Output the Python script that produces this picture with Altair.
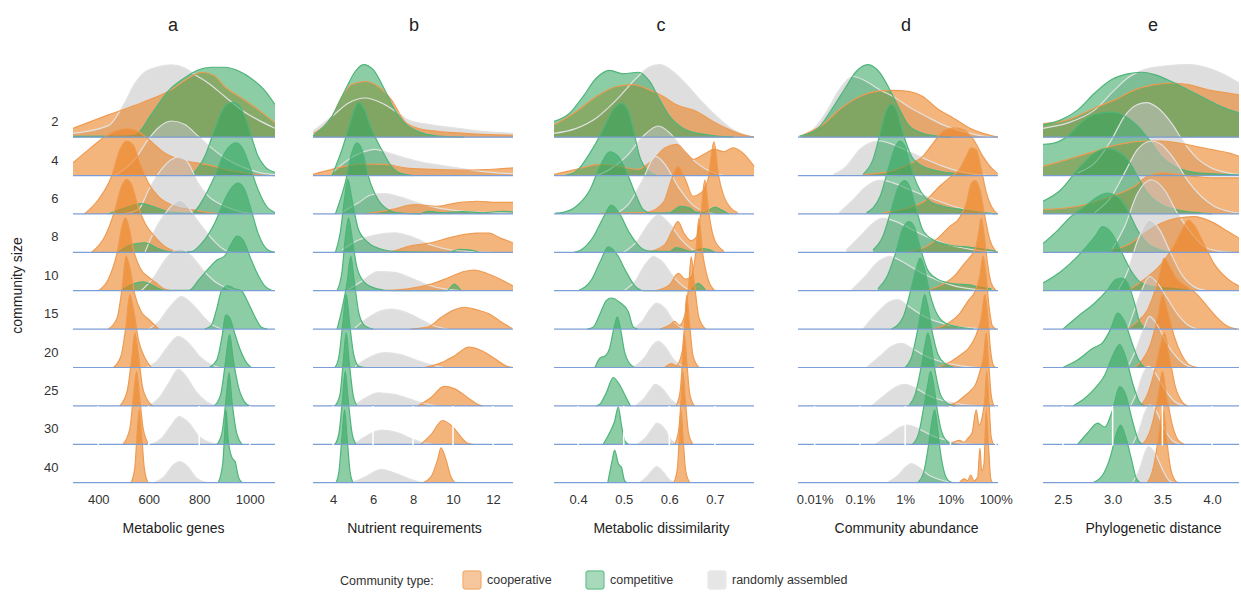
import altair as alt
import pandas as pd

SIZES = ["2", "4", "6", "8", "10", "15", "20", "25", "30", "40"]
TYPES = ["cooperative", "competitive", "randomly assembled"]

# ---------------- panel a : Metabolic genes ----------------
A_COOP = [
    [(300,.23),(440,.58),(570,.89),(680,1.2),(760,1.55),(810,1.69),(860,1.6),(900,1.32),(980,.97),(1060,.58),(1100,.37)],
    [(300,.33),(370,.72),(440,1.07),(490,1.2),(515,1.22),(560,1.14),(600,.94),(660,.6),(720,.42),(790,.33),(850,.26),(900,.16),(970,.08),(1040,.02),(1100,0)],
    [(345,0),(400,.37),(453,.98),(486,1.68),(512,1.9),(538,1.8),(565,1.33),(598,.81),(637,.46),(703,.2),(769,.11),(835,.04),(880,0)],
    [(374,0),(426,.41),(466,1.1),(492,1.71),(512,1.9),(532,1.76),(558,1.19),(585,.76),(624,.41),(664,.15),(716,0)],
    [(400,0),(440,.3),(475,1.0),(495,1.7),(507,1.9),(520,1.7),(540,1.05),(565,.6),(600,.35),(630,.2),(660,.05),(690,0)],
    [(440,0),(475,.3),(495,1.1),(510,1.9),(525,1.6),(545,.9),(570,.45),(600,.25),(640,0)],
    [(460,0),(490,.3),(510,1.1),(525,1.9),(540,1.5),(560,.7),(585,.25),(610,0)],
    [(485,0),(515,.4),(532,1.2),(545,1.9),(558,1.4),(575,.5),(600,.1),(615,0)],
    [(498,0),(525,.4),(540,1.3),(552,1.9),(563,1.3),(578,.4),(600,0)],
    [(530,0),(545,.4),(555,1.4),(562,1.9),(570,1.4),(582,.4),(597,0)],
]
A_COMP = [
    [(300,.02),(500,.03),(545,.05),(611,.6),(677,1.2),(743,1.55),(795,1.75),(848,1.82),(901,1.82),(954,1.73),(1006,1.53),(1059,1.22),(1100,.85)],
    [(769,0),(822,.5),(861,1.2),(894,1.72),(914,1.87),(934,1.9),(954,1.85),(980,1.55),(1006,1.03),(1033,.5),(1059,.24),(1100,.08)],
    [(440,0),(505,.15),(571,.27),(624,.18),(690,.04),(769,.02),(822,.46),(861,.98),(901,1.59),(927,1.8),(947,1.85),(974,1.68),(1000,1.24),(1033,.63),(1066,.2),(1100,.03)],
    [(479,0),(532,.2),(585,.25),(637,.1),(690,.01),(769,.02),(809,.23),(861,.76),(901,1.37),(927,1.67),(954,1.8),(980,1.63),(1006,1.1),(1033,.5),(1072,.06),(1100,0)],
    [(490,0),(540,.18),(580,.23),(620,.12),(660,.01),(760,.01),(800,.3),(840,.6),(870,.8),(900,.9),(925,1.2),(950,1.42),(975,1.3),(1000,.9),(1030,.45),(1060,.12),(1090,0)],
    [(822,0),(848,.1),(868,.5),(888,1.0),(914,1.13),(940,1.05),(967,1.0),(993,.7),(1020,.33),(1046,.05),(1070,0)],
    [(840,0),(870,.2),(890,.8),(905,1.37),(920,1.3),(940,.9),(960,.5),(985,.15),(1005,0)],
    [(860,0),(885,.3),(905,1.2),(920,1.86),(935,1.2),(955,.5),(980,.1),(1000,0)],
    [(870,0),(890,.3),(905,1.1),(918,1.86),(930,1.1),(948,.3),(970,0)],
    [(875,0),(893,.5),(900,1.2),(906,1.89),(915,1.1),(930,.65),(942,.55),(955,.15),(970,0)],
]
A_RAND = [
    [(300,.1),(440,.3),(505,.9),(545,1.4),(585,1.7),(637,1.83),(690,1.88),(743,1.8),(782,1.63),(835,1.41),(901,1.06),(967,.71),(1033,.45),(1100,.23)],
    [(466,0),(545,.42),(598,.94),(637,1.24),(690,1.42),(743,1.33),(795,1.03),(848,.72),(901,.46),(980,.2),(1059,.05),(1100,.02)],
    [(500,0),(560,.12),(600,.63),(650,1.16),(690,1.42),(723,1.49),(756,1.33),(795,.81),(835,.47),(901,.2),(967,.05),(1030,0)],
    [(585,0),(624,.58),(664,1.0),(703,1.29),(723,1.35),(756,1.19),(782,.93),(822,.58),(861,.28),(901,.06),(930,0)],
    [(570,0),(620,.35),(670,.85),(723,1.1),(770,.9),(820,.5),(870,.2),(920,.05),(960,0)],
    [(600,0),(640,.2),(680,.55),(730,.85),(780,.6),(820,.3),(860,.08),(890,0)],
    [(590,0),(630,.15),(670,.5),(717,.81),(760,.62),(800,.3),(840,.1),(880,0)],
    [(600,0),(640,.2),(680,.6),(717,.95),(750,.75),(790,.35),(830,.1),(870,0)],
    [(610,0),(650,.15),(690,.5),(720,.72),(760,.55),(800,.2),(840,.05),(870,0)],
    [(620,0),(660,.15),(695,.45),(722,.55),(750,.45),(790,.12),(830,0)],
]

# ---------------- panel b : Nutrient requirements ----------------
B_COOP = [
    [(3.04,.1),(3.95,.54),(4.45,1.06),(4.94,1.37),(5.6,1.45),(6.26,1.32),(6.92,.97),(7.58,.41),(8.24,.23),(9.23,.15),(10.55,.1),(12.2,.06),(13,.05)],
    [(3.0,.03),(3.95,.16),(4.78,.26),(5.6,.3),(6.59,.29),(7.58,.2),(8.9,.16),(10.55,.14),(12.2,.17),(13,.2)],
    [(5.6,0),(6.92,.11),(8.08,.24),(9.23,.2),(10.22,.29),(11.2,.33),(12.2,.3),(13,.3)],
    [(6.5,0),(6.92,.02),(7.75,.15),(8.9,.25),(10.06,.41),(11.2,.5),(11.8,.5),(12.37,.37),(13,.25)],
    [(6.43,0),(7.75,.05),(8.9,.17),(9.73,.33),(10.55,.5),(11.05,.54),(11.7,.45),(12.37,.3),(13,.12)],
    [(7.91,0),(8.74,.05),(9.4,.3),(10.06,.5),(10.55,.57),(11.2,.5),(11.8,.4),(12.37,.2),(12.94,.02)],
    [(8.57,0),(9.4,.12),(10.06,.3),(10.8,.53),(11.38,.45),(12.04,.25),(12.7,.03),(13,0)],
    [(8.24,0),(8.9,.22),(9.56,.51),(10.06,.45),(10.72,.22),(11.2,.05),(11.5,0)],
    [(8.4,0),(8.9,.25),(9.48,.62),(9.9,.5),(10.39,.2),(10.72,.03),(11,0)],
    [(8.49,0),(8.9,.15),(9.23,.6),(9.4,.91),(9.65,.6),(9.9,.15),(10.1,0)],
]
B_COMP = [
    [(3.0,.03),(3.95,.54),(4.61,1.23),(5.11,1.71),(5.52,1.89),(6.01,1.76),(6.59,1.23),(7.09,.71),(7.58,.37),(8.24,.15),(9.23,.03),(10.55,0)],
    [(3.95,0),(4.45,.68),(4.86,1.37),(5.11,1.77),(5.27,1.9),(5.52,1.77),(5.93,1.2),(6.43,.68),(6.92,.24),(7.42,.05),(8,0)],
    [(4.12,0),(4.61,.81),(4.94,1.59),(5.19,1.85),(5.44,1.68),(5.77,.98),(6.26,.37),(6.76,.11),(7.25,.03),(8.3,0),(8.8,.07),(9.5,.03),(10.5,.06),(11.5,.03),(12.5,.07),(13,.05)],
    [(4.12,0),(4.36,.5),(4.58,1.4),(4.74,1.9),(4.94,1.4),(5.27,.6),(5.77,.25),(6.43,.08),(7.09,.02),(9.8,0),(10.3,.08),(10.9,.06),(11.3,0)],
    [(4.2,0),(4.45,.5),(4.62,1.4),(4.78,1.9),(4.95,1.4),(5.2,.6),(5.6,.2),(6.2,.05),(7,0),(9.7,0),(10.06,.17),(10.4,0)],
    [(4.2,0),(4.35,.3),(4.5,.65),(4.7,1.2),(4.89,1.9),(5.05,1.3),(5.3,.4),(5.6,.08),(6,0)],
    [(4.1,0),(4.3,.3),(4.5,1.2),(4.66,1.9),(4.82,1.2),(5.05,.3),(5.3,.03),(5.6,0)],
    [(4.1,0),(4.35,.3),(4.52,1.2),(4.66,1.9),(4.8,1.2),(5.0,.3),(5.2,0)],
    [(4.1,0),(4.3,.3),(4.48,1.2),(4.61,1.9),(4.75,1.2),(4.95,.3),(5.15,0)],
    [(4.15,0),(4.3,.3),(4.45,1.2),(4.58,1.9),(4.7,1.2),(4.85,.3),(5.0,0)],
]
B_RAND = [
    [(3.0,.15),(3.95,.54),(4.78,.89),(5.6,1.02),(6.43,.89),(7.25,.63),(7.75,.45),(8.9,.32),(10.22,.23),(11.5,.15),(13,.1)],
    [(3.95,.07),(4.78,.42),(5.6,.63),(6.1,.68),(6.76,.59),(7.58,.46),(8.57,.33),(9.73,.24),(10.88,.14),(12.2,.07),(13,.05)],
    [(4.45,.04),(5.27,.29),(5.93,.5),(6.59,.53),(7.25,.46),(8.24,.29),(9.23,.16),(10.55,.07),(12.2,.03),(13,.02)],
    [(4.45,.06),(5.27,.32),(6.1,.45),(7.09,.51),(7.91,.41),(8.9,.19),(9.9,.06),(10.9,.02),(12,0)],
    [(4.78,.03),(5.44,.25),(6.26,.5),(7.09,.48),(7.91,.33),(8.74,.15),(9.56,.05),(10.5,0)],
    [(5.1,.03),(5.77,.3),(6.43,.48),(6.92,.52),(7.58,.45),(8.4,.25),(9.07,.08),(9.73,0)],
    [(5.1,.02),(5.6,.2),(6.59,.39),(7.42,.33),(8.24,.18),(8.9,.07),(9.56,0)],
    [(5.1,.03),(5.6,.2),(6.26,.34),(7.09,.3),(7.91,.17),(8.57,.06),(9.23,0)],
    [(5.1,.02),(5.77,.25),(6.43,.37),(7.25,.3),(7.91,.15),(8.57,.03),(9,0)],
    [(4.94,0),(5.6,.15),(6.43,.35),(7.09,.25),(7.91,.08),(8.4,0)],
]

# ---------------- panel c : Metabolic dissimilarity ----------------
C_COOP = [
    [(0.347,.32),(0.396,.67),(0.44,1.06),(0.484,1.32),(0.521,1.37),(0.557,1.23),(0.587,1.06),(0.616,.84),(0.66,.67),(0.696,.41),(0.733,.19),(0.762,.06),(0.786,0)],
    [(0.347,.03),(0.396,.16),(0.448,.29),(0.491,.24),(0.53,.16),(0.565,.42),(0.59,.72),(0.616,.81),(0.64,.55),(0.652,.42),(0.675,.55),(0.7,.68),(0.72,.62),(0.74,.72),(0.76,.6),(0.786,.24)],
    [(0.45,.02),(0.55,.04),(0.587,.3),(0.605,.9),(0.619,1.24),(0.635,.9),(0.652,.46),(0.67,.55),(0.685,.9),(0.698,1.88),(0.708,1.0),(0.72,.45),(0.735,.15),(0.75,.03)],
    [(0.55,0),(0.59,.2),(0.608,.6),(0.619,.8),(0.632,.5),(0.648,.3),(0.66,.4),(0.67,1.1),(0.678,1.88),(0.687,1.0),(0.7,.3),(0.72,.03)],
    [(0.57,0),(0.6,.15),(0.62,.45),(0.635,.3),(0.648,.35),(0.658,1.0),(0.665,1.88),(0.673,1.0),(0.685,.3),(0.7,0)],
    [(0.58,0),(0.6,.1),(0.612,.2),(0.622,.1),(0.635,.4),(0.643,1.2),(0.648,1.88),(0.655,1.2),(0.665,.3),(0.68,0)],
    [(0.59,0),(0.605,.1),(0.615,.05),(0.628,.4),(0.634,1.2),(0.638,1.88),(0.644,1.2),(0.652,.3),(0.665,0)],
    [(0.615,0),(0.624,.4),(0.629,1.2),(0.633,1.88),(0.638,1.2),(0.645,.3),(0.655,0)],
    [(0.612,0),(0.621,.4),(0.626,1.2),(0.63,1.88),(0.635,1.2),(0.642,.3),(0.652,0)],
    [(0.61,0),(0.618,.4),(0.622,1.2),(0.626,1.88),(0.63,1.2),(0.636,.3),(0.645,0)],
]
C_COMP = [
    [(0.347,.41),(0.382,.63),(0.411,1.06),(0.44,1.54),(0.469,1.74),(0.499,1.65),(0.532,1.69),(0.557,1.45),(0.579,.97),(0.601,.54),(0.63,.23),(0.667,.09),(0.704,.03),(0.74,0)],
    [(0.37,0),(0.396,.11),(0.426,.59),(0.455,1.2),(0.477,1.72),(0.495,1.88),(0.51,1.68),(0.521,1.2),(0.535,.5),(0.55,.16),(0.57,.02)],
    [(0.35,.02),(0.367,.04),(0.396,.2),(0.426,.63),(0.448,1.24),(0.469,1.62),(0.488,1.5),(0.51,.98),(0.528,.46),(0.543,.11),(0.56,.02),(0.6,.03),(0.625,.2),(0.645,.15),(0.66,.04),(0.68,.05),(0.7,.18),(0.715,.1),(0.73,0)],
    [(0.39,0),(0.404,.05),(0.433,.4),(0.455,.9),(0.473,1.23),(0.491,1.0),(0.513,.5),(0.535,.15),(0.557,.03),(0.6,.02),(0.615,.12),(0.63,.08),(0.65,.02),(0.67,.1),(0.685,.08),(0.7,0)],
    [(0.4,0),(0.43,.3),(0.45,.8),(0.466,1.14),(0.485,.95),(0.505,.5),(0.525,.12),(0.545,0),(0.645,0),(0.663,.19),(0.68,0)],
    [(0.42,0),(0.433,.05),(0.448,.4),(0.462,.75),(0.473,.81),(0.491,.7),(0.51,.45),(0.521,.05),(0.53,0)],
    [(0.437,0),(0.448,.25),(0.459,.3),(0.469,.5),(0.478,1.0),(0.486,1.32),(0.493,1.0),(0.502,.4),(0.513,.1),(0.524,0)],
    [(0.44,0),(0.448,.05),(0.462,.35),(0.477,.74),(0.491,.55),(0.506,.2),(0.515,0)],
    [(0.455,0),(0.469,.3),(0.48,.6),(0.488,.97),(0.495,.5),(0.502,.1),(0.51,0)],
    [(0.465,0),(0.475,.6),(0.48,.85),(0.488,.5),(0.495,.4),(0.502,.05),(0.508,0)],
]
C_RAND = [
    [(0.347,.1),(0.396,.23),(0.44,.5),(0.484,.97),(0.528,1.54),(0.557,1.83),(0.579,1.89),(0.608,1.71),(0.638,1.37),(0.674,.89),(0.704,.54),(0.74,.19),(0.776,.03),(0.786,.01)],
    [(0.44,0),(0.469,.16),(0.506,.5),(0.543,1.03),(0.576,1.29),(0.601,1.11),(0.63,.68),(0.66,.33),(0.689,.11),(0.72,0)],
    [(0.48,0),(0.51,.25),(0.54,.85),(0.57,1.5),(0.59,1.3),(0.62,.7),(0.65,.25),(0.68,.05),(0.7,0)],
    [(0.5,0),(0.53,.3),(0.555,.75),(0.576,.97),(0.6,.75),(0.625,.35),(0.65,.08),(0.67,0)],
    [(0.5,0),(0.525,.25),(0.548,.7),(0.565,.89),(0.585,.75),(0.61,.35),(0.635,.08),(0.655,0)],
    [(0.52,0),(0.54,.2),(0.56,.55),(0.572,.68),(0.59,.55),(0.61,.2),(0.63,.02),(0.64,0)],
    [(0.52,0),(0.545,.25),(0.565,.6),(0.576,.68),(0.59,.55),(0.61,.2),(0.63,.03),(0.64,0)],
    [(0.525,0),(0.545,.2),(0.56,.45),(0.568,.56),(0.585,.45),(0.605,.15),(0.625,0)],
    [(0.53,0),(0.55,.2),(0.565,.45),(0.572,.55),(0.59,.4),(0.605,.1),(0.62,0)],
    [(0.535,0),(0.55,.15),(0.565,.35),(0.572,.42),(0.585,.3),(0.6,.08),(0.615,0)],
]

# ---------------- panel d : Community abundance (%) ----------------
D_COOP = [
    [(0.005,.03),(0.015,.32),(0.043,.8),(0.1,1.06),(0.23,1.19),(0.54,1.22),(1.17,1.19),(2.45,1.06),(4.9,.76),(11.5,.5),(27,.23),(52,.1),(87,.03),(112,0)],
    [(0.117,.03),(0.46,.11),(1.17,.29),(2.45,.5),(4.2,.85),(6.9,1.16),(11.5,1.24),(19,1.2),(32,.94),(52,.5),(80,.2),(110,.05)],
    [(0.32,.03),(1.17,.16),(2.95,.37),(5.75,.72),(9.5,.94),(15.8,1.16),(22.4,1.5),(28.8,1.72),(37,1.68),(48,1.16),(62,.55),(80,.2),(100,.04),(112,0)],
    [(1.17,.02),(2.95,.15),(5.75,.41),(9.5,.67),(15.8,.89),(22.4,1.28),(28.8,1.8),(34.7,1.87),(44.7,1.63),(57.5,.93),(74,.32),(95,.06),(112,0)],
    [(2.5,0),(6.3,.15),(12.6,.4),(20,.7),(28,.9),(35.5,1.1),(41.7,1.5),(47.9,1.89),(55,1.5),(66,.7),(79,.2),(100,.02)],
    [(4,0),(8.9,.15),(15.8,.4),(25,.75),(35.5,1.0),(44.7,1.4),(52.5,1.9),(60,1.5),(71,.6),(83,.1),(100,0)],
    [(5,0),(10,.15),(17.8,.35),(25,.5),(35.5,.8),(47.9,1.3),(57.5,1.9),(66,1.4),(76,.5),(89,.05),(100,0)],
    [(8,0),(14,.1),(20,.25),(28,.4),(35.5,.55),(44.7,.9),(53.7,1.3),(61.7,1.9),(69,1.2),(79,.3),(91,0)],
    [(10,0),(15.8,.1),(20,.05),(24,.15),(30,.3),(37,.9),(42.7,.5),(50,.7),(57.5,1.2),(63,1.9),(71,1.1),(79,.2),(89,0)],
    [(15.8,0),(20,.1),(24,.05),(28,.2),(33,.05),(40,.15),(44.7,.9),(49,.3),(55,.5),(61.7,1.9),(69,1.0),(77.6,.1),(85,0)],
]
D_COMP = [
    [(0.0047,.03),(0.011,.19),(0.025,.76),(0.05,1.32),(0.083,1.71),(0.15,1.89),(0.28,1.67),(0.46,1.23),(0.76,.71),(1.17,.32),(2.45,.1),(4.9,.03),(10,0)],
    [(0.117,.03),(0.195,.42),(0.295,1.2),(0.38,1.68),(0.49,1.85),(0.63,1.72),(0.89,1.11),(1.38,.5),(2.45,.24),(5.75,.11),(13.5,.05),(32,0)],
    [(0.14,.03),(0.28,.46),(0.42,1.16),(0.59,1.72),(0.76,1.9),(0.98,1.77),(1.38,1.16),(2.1,.63),(3.5,.33),(6.9,.2),(19,.11),(52,.04),(100,0)],
    [(0.195,.06),(0.32,.41),(0.49,1.1),(0.69,1.67),(0.98,1.87),(1.26,1.71),(1.78,1.1),(2.45,.58),(4.2,.32),(9.5,.19),(27,.13),(74,.06),(100,.03)],
    [(0.25,.05),(0.4,.38),(0.62,1.0),(0.87,1.6),(1.23,1.8),(1.6,1.65),(2.24,1.05),(3.1,.55),(5.2,.3),(12,.18),(27,.15),(34,.12),(80,.05)],
    [(0.5,0),(0.89,.3),(1.32,1.0),(1.78,1.6),(2.14,1.85),(2.63,1.6),(3.55,.9),(5,.4),(7.9,.15),(15.8,.05),(32,0)],
    [(1,0),(1.41,.3),(1.9,1.0),(2.34,1.6),(2.69,1.9),(3.16,1.6),(4.0,.9),(5.25,.35),(7.6,.1),(12.6,0)],
    [(1.2,0),(1.66,.3),(2.24,1.0),(2.75,1.6),(3.16,1.9),(3.7,1.6),(4.6,.9),(6.0,.3),(8.9,.05),(12.6,0)],
    [(1.45,0),(2.0,.3),(2.6,1.0),(3.2,1.6),(3.63,1.9),(4.2,1.6),(5.1,.9),(6.5,.3),(9,.05),(12,0)],
    [(1.9,0),(2.6,.3),(3.3,1.0),(3.9,1.6),(4.5,1.9),(5.1,1.5),(6.0,.8),(7.4,.25),(9.5,.03),(11,0)],
]
D_RAND = [
    [(0.0043,.02),(0.0091,.19),(0.018,.65),(0.035,1.23),(0.071,1.58),(0.14,1.45),(0.28,1.23),(0.54,1.06),(1.17,.8),(2.95,.54),(6.9,.32),(19,.15),(52,.03),(100,0)],
    [(0.026,.03),(0.05,.24),(0.1,.68),(0.166,.85),(0.28,.9),(0.54,.81),(1.17,.63),(2.95,.42),(6.9,.24),(15.8,.11),(37,.03),(80,0)],
    [(0.035,.03),(0.071,.37),(0.14,.72),(0.28,.88),(0.54,.81),(1.26,.63),(2.95,.46),(6.9,.29),(19,.13),(52,.04),(100,0)],
    [(0.05,.06),(0.1,.41),(0.195,.76),(0.32,.89),(0.63,.8),(1.48,.58),(3.5,.37),(9.5,.19),(27,.08),(63,.02),(100,0)],
    [(0.063,0),(0.126,.35),(0.25,.75),(0.46,.89),(0.89,.75),(2.0,.5),(5.0,.28),(12.6,.12),(32,.04),(80,0)],
    [(0.117,0),(0.23,.4),(0.46,.72),(0.69,.77),(1.17,.6),(2.45,.35),(4.9,.2),(9.5,.1),(27,.03),(50,0)],
    [(0.14,0),(0.28,.3),(0.5,.55),(0.83,.63),(1.41,.5),(2.8,.3),(6.3,.15),(15.8,.05),(40,0)],
    [(0.18,0),(0.35,.28),(0.63,.5),(1.0,.56),(1.78,.45),(3.55,.25),(7.9,.12),(20,.03),(40,0)],
    [(0.22,0),(0.45,.25),(0.79,.45),(1.17,.5),(2.0,.4),(4.0,.22),(8.9,.1),(20,.02),(32,0)],
    [(0.4,0),(0.71,.2),(1.05,.42),(1.38,.5),(2.0,.4),(3.55,.18),(7.1,.05),(12.6,0)],
]

# ---------------- panel e : Phylogenetic distance ----------------
E_COOP = [
    [(2.3,.35),(2.55,.45),(2.82,.76),(3.02,.97),(3.22,1.23),(3.42,1.37),(3.59,1.41),(3.76,1.37),(3.96,1.23),(4.16,1.15),(4.27,1.1)],
    [(2.3,.24),(2.48,.37),(2.65,.5),(2.82,.63),(2.99,.77),(3.15,.85),(3.32,.9),(3.49,.9),(3.65,.85),(3.82,.77),(3.99,.68),(4.16,.59),(4.27,.5)],
    [(2.3,.11),(2.65,.2),(2.99,.46),(3.22,.72),(3.35,.98),(3.49,1.07),(3.65,1.03),(3.82,.98),(4.02,.94),(4.27,.94)],
    [(2.99,.06),(3.15,.19),(3.32,.5),(3.49,.76),(3.65,.89),(3.82,.93),(3.99,.8),(4.16,.54),(4.27,.37)],
    [(3.15,0),(3.32,.3),(3.49,.7),(3.62,1.2),(3.72,1.7),(3.76,1.84),(3.82,1.7),(3.92,1.2),(4.02,.7),(4.16,.3),(4.27,.12)],
    [(3.15,0),(3.25,.2),(3.35,.5),(3.45,1.2),(3.52,1.85),(3.58,1.6),(3.65,1.3),(3.75,1.1),(3.85,.9),(3.95,.6),(4.05,.3),(4.15,.08),(4.25,0)],
    [(3.22,0),(3.3,.2),(3.38,.6),(3.45,1.3),(3.5,1.9),(3.56,1.4),(3.62,.8),(3.7,.3),(3.78,.05),(3.85,0)],
    [(3.28,0),(3.35,.3),(3.42,.9),(3.48,1.6),(3.52,1.9),(3.57,1.3),(3.63,.5),(3.7,.1),(3.75,0)],
    [(3.3,0),(3.37,.3),(3.43,.9),(3.47,1.5),(3.5,1.9),(3.54,1.3),(3.6,.5),(3.66,.1),(3.72,0)],
    [(3.35,0),(3.4,.3),(3.45,1.0),(3.48,1.6),(3.51,1.9),(3.54,1.2),(3.58,.4),(3.63,.05),(3.66,0)],
]
E_COMP = [
    [(2.3,.32),(2.48,.45),(2.65,.71),(2.82,1.15),(2.99,1.5),(3.15,1.65),(3.29,1.69),(3.42,1.63),(3.59,1.45),(3.76,1.23),(3.92,1.02),(4.09,.8),(4.27,.63)],
    [(2.3,.81),(2.42,.85),(2.55,1.03),(2.68,1.37),(2.82,1.59),(2.99,1.65),(3.12,1.55),(3.25,1.29),(3.39,.85),(3.49,.5),(3.62,.24),(3.76,.11),(3.96,.05),(4.27,.02)],
    [(2.3,.33),(2.48,.63),(2.65,1.16),(2.82,1.59),(2.95,1.7),(3.05,1.63),(3.15,1.42),(3.25,.98),(3.35,.55),(3.49,.24),(3.65,.11),(3.82,.04),(4.0,0)],
    [(2.3,.23),(2.45,.58),(2.58,.93),(2.72,1.19),(2.85,1.45),(2.95,1.54),(3.05,1.45),(3.15,1.1),(3.25,.58),(3.35,.23),(3.49,.06),(3.6,0)],
    [(2.3,.2),(2.48,.5),(2.65,.9),(2.82,1.4),(2.9,1.67),(2.99,1.5),(3.09,1.0),(3.19,.5),(3.29,.2),(3.42,.1),(3.65,.05),(3.8,0)],
    [(2.5,0),(2.65,.33),(2.82,.68),(2.95,1.03),(3.03,1.29),(3.09,1.33),(3.15,1.2),(3.22,.68),(3.27,.2),(3.32,.05),(3.4,0)],
    [(2.5,0),(2.65,.2),(2.8,.5),(2.9,.65),(2.98,1.0),(3.05,1.42),(3.12,1.2),(3.2,.6),(3.26,.2),(3.32,0)],
    [(2.6,0),(2.72,.2),(2.82,.45),(2.92,.8),(3.0,1.3),(3.07,1.6),(3.14,1.2),(3.2,.6),(3.27,.1),(3.32,0)],
    [(2.65,0),(2.75,.3),(2.85,.55),(2.92,.45),(3.0,.9),(3.07,1.5),(3.13,1.3),(3.2,.6),(3.26,.1),(3.3,0)],
    [(2.8,0),(2.9,.2),(2.98,.7),(3.04,1.3),(3.08,1.5),(3.13,1.2),(3.19,.6),(3.24,.1),(3.28,0)],
]
E_RAND = [
    [(2.3,.23),(2.55,.37),(2.82,.71),(3.02,1.23),(3.15,1.54),(3.32,1.76),(3.55,1.86),(3.76,1.89),(3.96,1.8),(4.12,1.63),(4.27,1.41)],
    [(2.65,.07),(2.82,.33),(2.99,.94),(3.12,1.55),(3.25,1.85),(3.34,1.9),(3.45,1.77),(3.59,1.37),(3.72,.85),(3.86,.42),(3.99,.2),(4.16,.07),(4.27,.03)],
    [(2.82,.04),(2.99,.46),(3.12,1.07),(3.25,1.68),(3.39,1.9),(3.49,1.81),(3.62,1.42),(3.76,.85),(3.89,.46),(4.02,.2),(4.16,.07),(4.27,.02)],
    [(2.99,.06),(3.12,.67),(3.25,1.54),(3.39,1.89),(3.52,1.63),(3.65,1.02),(3.79,.5),(3.92,.15),(4.06,.03),(4.2,0)],
    [(3.05,0),(3.15,.5),(3.25,1.3),(3.37,1.84),(3.47,1.6),(3.58,1.0),(3.7,.4),(3.82,.1),(3.95,0)],
    [(3.15,0),(3.22,.5),(3.29,1.0),(3.37,1.37),(3.45,1.2),(3.55,.8),(3.65,.4),(3.76,.1),(3.85,0)],
    [(3.15,0),(3.24,.5),(3.31,1.0),(3.37,1.33),(3.45,1.1),(3.55,.6),(3.65,.25),(3.75,.05),(3.85,0)],
    [(3.18,0),(3.25,.4),(3.3,.8),(3.36,1.03),(3.43,.85),(3.52,.45),(3.62,.12),(3.72,0)],
    [(3.2,0),(3.27,.4),(3.32,.8),(3.37,1.03),(3.44,.85),(3.52,.4),(3.6,.1),(3.68,0)],
    [(3.2,0),(3.27,.35),(3.32,.75),(3.36,.94),(3.43,.75),(3.5,.35),(3.57,.05),(3.62,0)],
]

FONT = "Liberation Sans"
FILL_RANGE = ["rgba(236,128,30,0.58)", "rgba(46,164,91,0.55)", "rgba(195,195,195,0.55)"]
STROKE_RANGE = ["#EE9B52", "#4DB57A", "#E2E2E2"]
RULE_COLOR = "#7B9ED6"
PANEL_H = 440
Y_DOMAIN = [-0.06, 11.4]
SYMBOL = "M-0.7,-1H0.7Q1,-1 1,-0.7V0.7Q1,1 0.7,1H-0.7Q-1,1 -1,0.7V-0.7Q-1,-1 -0.7,-1Z"

LEGEND = alt.Legend(
    title="Community type:", orient="none", legendX=267, legendY=525,
    direction="horizontal", titleOrient="left", symbolType=SYMBOL, symbolSize=320,
    symbolStrokeWidth=1.5, symbolOpacity=0.75, labelFontSize=12.5, titleFontSize=12.5,
    titleFontWeight="normal", labelFont=FONT, titleFont=FONT, labelColor="#333",
    titleColor="#333", columnPadding=31, titlePadding=28, labelOffset=5, titleBaseline="middle",
)


def frame(coop, comp, rand):
    recs = []
    for i in range(10):
        base = 9 - i
        for t, curves in (("randomly assembled", rand), ("cooperative", coop), ("competitive", comp)):
            for x, h in curves[i]:
                recs.append({"row": i, "type": t, "x": x, "top": base + h, "base": base})
    return pd.DataFrame(recs)


BASES = pd.DataFrame({"base": [9 - i for i in range(10)]})


def panel(coop, comp, rand, letter, xtitle, domain, width, data_w, ticks, fmt=None,
          label_expr=None, log=False, first=False, title_pos=None):
    df = frame(coop, comp, rand)
    xscale = alt.Scale(domain=domain, nice=False, zero=False, type="log" if log else "linear")
    axis_kw = dict(title=xtitle, values=ticks, domain=False, ticks=False, grid=False,
                   labelPadding=8, titlePadding=15, labelFontSize=13, titleFontSize=14,
                   titleFontWeight="normal", labelFont=FONT, titleFont=FONT,
                   labelColor="#333", titleColor="#222", labelFlush=False,
                   titleX=title_pos)
    if fmt:
        axis_kw["format"] = fmt
    if label_expr:
        axis_kw["labelExpr"] = label_expr
    xenc = alt.X("x:Q", scale=xscale, axis=alt.Axis(**axis_kw))
    yscale = alt.Scale(domain=Y_DOMAIN, nice=False, zero=False)
    if first:
        yaxis = alt.Axis(title="community size", values=[b + 0.4 for b in range(10)],
                         labelExpr="['40','30','25','20','15','10','8','6','4','2'][round(datum.value - 0.4)]",
                         domain=False, ticks=False, grid=False, labelPadding=15,
                         labelFontSize=13, titleFontSize=14, titleFontWeight="normal",
                         labelFont=FONT, titleFont=FONT, labelColor="#333", titleColor="#222",
                         titlePadding=19, titleY=240)
    else:
        yaxis = None
    fill = alt.Fill("type:N", scale=alt.Scale(domain=TYPES, range=FILL_RANGE), legend=LEGEND)
    stroke = alt.Stroke("type:N", scale=alt.Scale(domain=TYPES, range=STROKE_RANGE), legend=LEGEND)
    layers = []
    for i in range(10):
        sub = alt.Chart(df).transform_filter(alt.datum.row == i)
        area = sub.mark_area(interpolate="monotone", clip=True, strokeWidth=0).encode(
            x=xenc,
            y=alt.Y("top:Q", scale=yscale, axis=yaxis, stack=None),
            y2="base:Q",
            fill=fill,
            detail="type:N",
        )
        line = sub.mark_line(interpolate="monotone", clip=True, strokeWidth=1.2).encode(
            x=xenc,
            y=alt.Y("top:Q", scale=yscale, axis=yaxis),
            stroke=stroke,
            detail="type:N",
        )
        layers += [area, line]
    rules = alt.Chart(BASES).mark_rule(color=RULE_COLOR, strokeWidth=1.2).encode(
        y=alt.Y("base:Q", scale=yscale, axis=yaxis),
        x=alt.value(0), x2=alt.value(data_w),
    )
    # thin white guide segments at the tick positions in the "30" row
    guides = alt.Chart(pd.DataFrame({"tick": ticks, "lo": [0.97] * len(ticks), "hi": [2.0] * len(ticks)})).mark_rule(
        color="white", strokeWidth=1.5, clip=True
    ).encode(
        x=alt.X("tick:Q", scale=xscale, axis=alt.Axis(**axis_kw)),
        y=alt.Y("lo:Q", scale=yscale, axis=yaxis),
        y2="hi:Q",
    )
    return alt.layer(*layers, rules, guides).properties(
        width=width, height=PANEL_H,
        title=alt.TitleParams(letter, fontSize=18, fontWeight="normal", font=FONT,
                              color="#222", anchor="middle", dx=title_pos - width / 2, offset=10),
    )


# panel widths include a small right margin so that the plotted regions sit where they do
pa = panel(A_COOP, A_COMP, A_RAND, "a", "Metabolic genes", [300, 1100], 202, 202,
           [400, 600, 800, 1000], fmt="d", first=True, title_pos=100)
pb = panel(B_COOP, B_COMP, B_RAND, "b", "Nutrient requirements", [3, 13.15], 203, 200,
           [4, 6, 8, 10, 12], fmt="d", title_pos=101)
pc = panel(C_COOP, C_COMP, C_RAND, "c", "Metabolic dissimilarity", [0.347, 0.799], 206, 200,
           [0.4, 0.5, 0.6, 0.7], fmt=".1f", title_pos=107)
pd_ = panel(D_COOP, D_COMP, D_RAND, "d", "Community abundance", [0.0043, 160], 207, 200,
            [0.01, 0.1, 1, 10, 100], label_expr="format(datum.value, '~g') + '%'",
            log=True, title_pos=108)
pe = panel(E_COOP, E_COMP, E_RAND, "e", "Phylogenetic distance", [2.3, 4.27], 196, 196,
           [2.5, 3.0, 3.5, 4.0], fmt=".1f", title_pos=110)

chart = alt.hconcat(pa, pb, pc, pd_, pe, spacing=38, bounds="flush").properties(
    padding={"left": 10, "top": 17, "right": 0, "bottom": 0}
).configure(font=FONT).configure_view(stroke="transparent", strokeWidth=0)

chart.save("out.html", embed_options={"renderer": "svg", "actions": False})
